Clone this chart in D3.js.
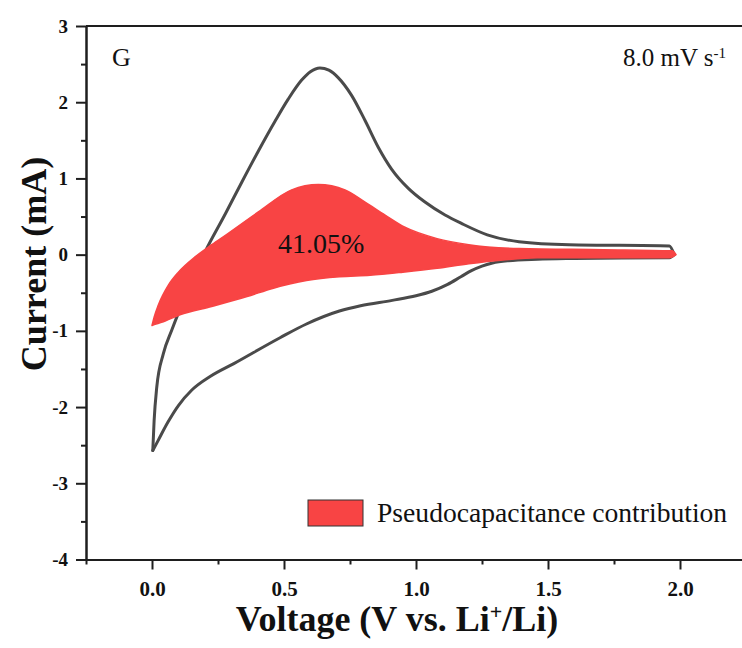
<!DOCTYPE html>
<html>
<head>
<meta charset="utf-8">
<script src="https://cdn.jsdelivr.net/npm/d3@7"></script>
<style>
  body { margin: 0; background: #fff; }
  svg { display: block; }
  text { font-family: "Liberation Serif", "Times New Roman", serif; fill: #111; }
  .axis path, .axis line { stroke: #1e1e1e; stroke-width: 2; }
  .axis text { font-weight: bold; }
</style>
</head>
<body>
<div id="chart"></div>
<script>
// CV curve, anodic sweep (0 V -> 2 V)
var cvAnodicV = [0.003, 0.008, 0.018, 0.043, 0.075, 0.138, 0.2, 0.277, 0.34, 0.403, 0.466, 0.516, 0.567, 0.60, 0.636, 0.67, 0.706, 0.756, 0.807, 0.857, 0.908, 0.971, 1.034, 1.11, 1.172, 1.27, 1.39, 1.58, 1.96, 1.978];
var cvAnodicI = [-2.57, -2.18, -1.74, -1.30, -0.99, -0.45, 0.03, 0.53, 0.95, 1.36, 1.75, 2.04, 2.29, 2.40, 2.45, 2.42, 2.32, 2.09, 1.76, 1.41, 1.12, 0.87, 0.69, 0.52, 0.41, 0.26, 0.17, 0.13, 0.115, 0.0];
// CV curve, cathodic sweep (2 V -> 0 V)
var cvCathodicV = [1.978, 1.96, 1.6, 1.46, 1.35, 1.29, 1.25, 1.21, 1.17, 1.12, 1.06, 1.0, 0.91, 0.79, 0.71, 0.585, 0.485, 0.31, 0.22, 0.15, 0.10, 0.06, 0.023, 0.003];
var cvCathodicI = [0.0, -0.04, -0.05, -0.06, -0.08, -0.11, -0.15, -0.21, -0.29, -0.39, -0.48, -0.54, -0.60, -0.67, -0.74, -0.91, -1.09, -1.43, -1.60, -1.78, -1.98, -2.20, -2.44, -2.57];

// pseudocapacitive part, upper and lower edge
var pcUpperV = [0.0, 0.008, 0.024, 0.062, 0.1, 0.163, 0.226, 0.289, 0.403, 0.529, 0.63, 0.731, 0.807, 0.883, 0.958, 1.08, 1.2, 1.39, 1.71, 1.97, 1.985];
var pcUpperI = [-0.93, -0.82, -0.66, -0.40, -0.23, -0.03, 0.13, 0.28, 0.56, 0.85, 0.92, 0.85, 0.69, 0.52, 0.36, 0.21, 0.13, 0.08, 0.065, 0.05, 0.0];
var pcLowerV = [1.985, 1.96, 1.46, 1.33, 1.2, 1.08, 0.95, 0.826, 0.71, 0.585, 0.46, 0.36, 0.226, 0.106, 0.05, 0.015, 0.0];
var pcLowerI = [0.0, -0.04, -0.04, -0.07, -0.12, -0.18, -0.23, -0.27, -0.29, -0.34, -0.44, -0.55, -0.68, -0.79, -0.87, -0.91, -0.93];

var xTicks = [0, 0.5, 1.0, 1.5, 2.0];
var xMinor = [-0.25, 0.25, 0.75, 1.25, 1.75, 2.25];
var yTicks = [-4, -3, -2, -1, 0, 1, 2, 3];
var yMinor = [-3.5, -2.5, -1.5, -0.5, 0.5, 1.5, 2.5];

var pcPercent = "41.05%";
var panelLabel = "G";
var legendLabel = "Pseudocapacitance contribution";

var width = 742, height = 648;
var margin = {top: 26, left: 86, bottom: 89};
var serif = "'Liberation Serif', 'Times New Roman', serif";

var svg = d3.select("#chart").append("svg")
    .attr("width", width)
    .attr("height", height);

var x = d3.scaleLinear().domain([-0.25, 2.25]).range([margin.left, margin.left + 660]);
var y = d3.scaleLinear().domain([-4, 3]).range([height - margin.bottom + 0.5, margin.top]);

function zip(vs, is) {
  return vs.map(function(v, i) { return [v, is[i]]; });
}
function byV(a, b) { return a[0] - b[0]; }

var line = d3.line()
    .x(function(d) { return x(d[0]); })
    .y(function(d) { return y(d[1]); })
    .curve(d3.curveMonotoneX);

// total CV loop (each branch drawn left to right)
var cv = svg.append("g").attr("class", "cv");
[zip(cvAnodicV, cvAnodicI), zip(cvCathodicV, cvCathodicI).sort(byV)].forEach(function(branch) {
  cv.append("path")
      .attr("d", line(branch))
      .attr("fill", "none")
      .attr("stroke", "#4a4a4a")
      .attr("stroke-width", 3)
      .attr("stroke-linecap", "round")
      .attr("stroke-linejoin", "round");
});

// pseudocapacitance area: upper edge out, lower edge back
var upperPath = line(zip(pcUpperV, pcUpperI));
var lowerPath = line(zip(pcLowerV, pcLowerI).sort(byV).reverse());
svg.append("path")
    .attr("d", upperPath + "L" + lowerPath.slice(1) + "Z")
    .attr("fill", "#f84444")
    .attr("stroke", "#f84444")
    .attr("stroke-width", 1.5)
    .attr("stroke-linejoin", "round");

// axes
function styleAxis(g, size) {
  g.attr("font-family", serif);
  g.selectAll("text").style("font-size", size).style("font-family", serif).style("font-weight", "bold");
}
svg.append("g")
    .attr("class", "axis")
    .attr("transform", "translate(0," + y(-4) + ")")
    .call(d3.axisBottom(x).tickValues(xMinor).tickSize(5).tickSizeOuter(0).tickFormat(""));
svg.append("g")
    .attr("class", "axis")
    .attr("transform", "translate(0," + y(-4) + ")")
    .call(d3.axisBottom(x).tickValues(xTicks).tickSize(10).tickSizeOuter(0).tickPadding(12)
        .tickFormat(function(d) { return d.toFixed(1); }))
    .call(styleAxis, "21px");

svg.append("g")
    .attr("class", "axis")
    .attr("transform", "translate(" + x(-0.25) + ",0)")
    .call(d3.axisLeft(y).tickValues(yMinor).tickSize(5).tickSizeOuter(0).tickFormat(""));
svg.append("g")
    .attr("class", "axis")
    .attr("transform", "translate(" + x(-0.25) + ",0)")
    .call(d3.axisLeft(y).tickValues(yTicks).tickSize(10).tickSizeOuter(0).tickPadding(8)
        .tickFormat(function(d) { return String(d); }))
    .call(styleAxis, "19px");

// top frame line
svg.append("line")
    .attr("x1", x(-0.25)).attr("x2", width)
    .attr("y1", y(3)).attr("y2", y(3))
    .attr("stroke", "#1e1e1e").attr("stroke-width", 2);

// axis titles
var xt = svg.append("text")
    .attr("x", 397).attr("y", 631)
    .attr("text-anchor", "middle")
    .attr("font-family", serif)
    .style("font-size", "36px").style("font-weight", "bold")
    .text("Voltage (V vs. Li");
xt.append("tspan").attr("baseline-shift", "super").style("font-size", "22px").text("+");
xt.append("tspan").text("/Li)");

svg.append("text")
    .attr("transform", "translate(46," + 264 + ") rotate(-90)")
    .attr("text-anchor", "middle")
    .attr("font-family", serif)
    .style("font-size", "36px").style("font-weight", "bold")
    .text("Current (mA)");

// annotations
svg.append("text")
    .attr("x", 112).attr("y", 66)
    .attr("font-family", serif)
    .style("font-size", "26px")
    .text(panelLabel);

var rate = svg.append("text")
    .attr("x", 623).attr("y", 66)
    .attr("font-family", serif)
    .style("font-size", "25px")
    .text("8.0 mV s");
rate.append("tspan").attr("baseline-shift", "super").style("font-size", "15px").text("-1");

svg.append("text")
    .attr("x", 278).attr("y", 253)
    .attr("font-family", serif)
    .style("font-size", "28px")
    .text(pcPercent);

// legend
svg.append("rect")
    .attr("x", 308).attr("y", 500)
    .attr("width", 55).attr("height", 26)
    .attr("fill", "#f84444")
    .attr("stroke", "#333").attr("stroke-width", 1);
svg.append("text")
    .attr("x", 377).attr("y", 522)
    .attr("font-family", serif)
    .style("font-size", "27.6px")
    .text(legendLabel);
</script>
</body>
</html>
